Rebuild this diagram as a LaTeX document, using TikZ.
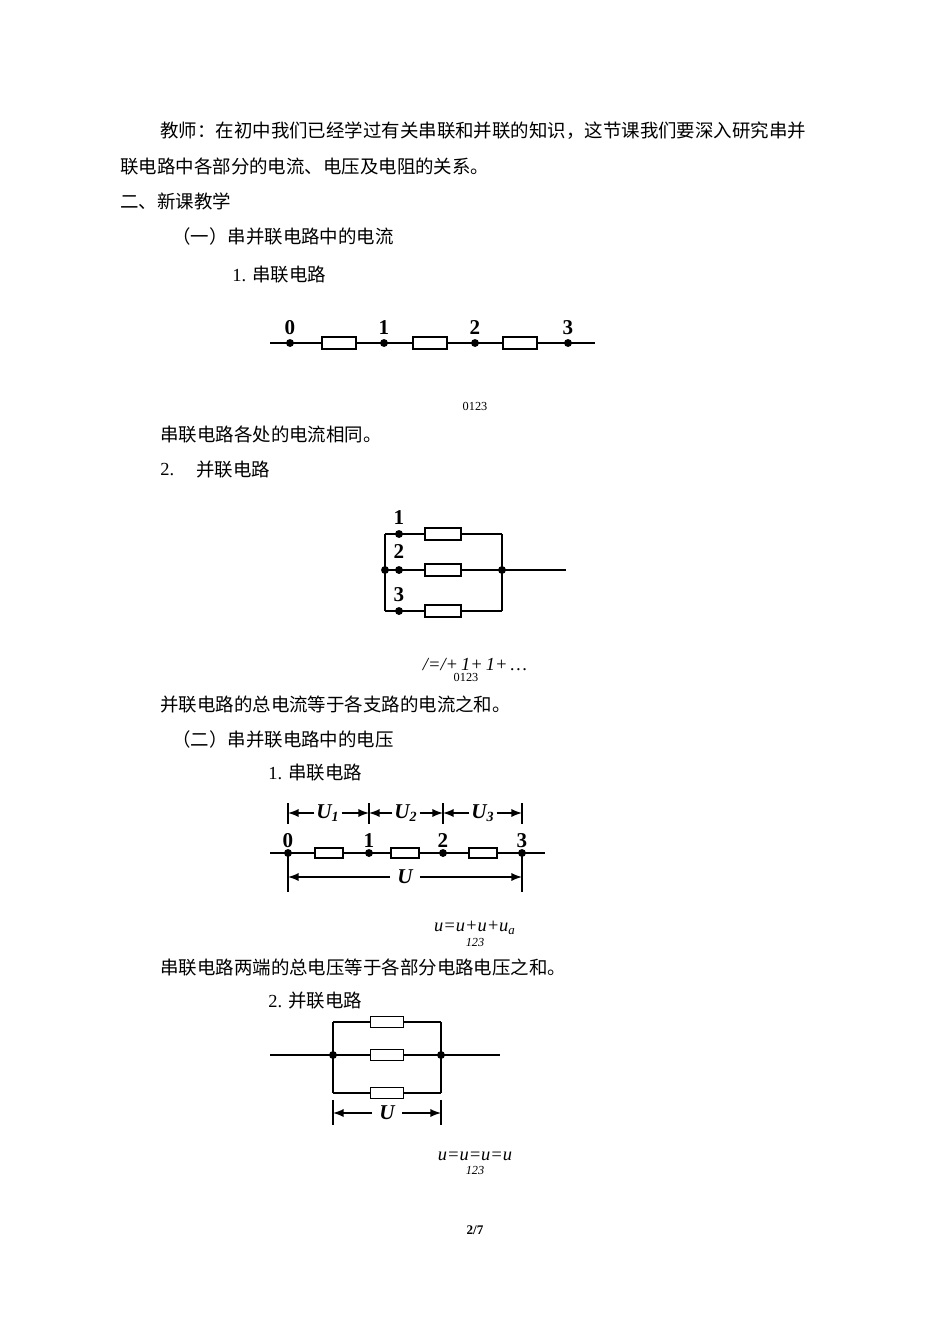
\documentclass[tikz,border=0pt]{standalone}
\usepackage{fontspec}
\setmainfont{Liberation Serif}
\newfontfamily\cjk{Noto Sans CJK SC}
\begin{document}
\begin{tikzpicture}[x=0.02cm,y=-0.02cm,
  txt/.style={anchor=west,inner sep=0,font=\fontsize{10.5pt}{12pt}\selectfont},
  wire/.style={line width=1.2pt},
  res/.style={draw,line width=1.1pt,fill=white,minimum width=#1*0.02cm,minimum height=0.24cm,inner sep=0},
  jn/.style={circle,fill,inner sep=0,minimum size=4.5pt},
  lbl/.style={font=\bfseries\fontsize{12pt}{12pt}\selectfont,inner sep=0},
  ulbl/.style={font=\bfseries\itshape\fontsize{12pt}{12pt}\selectfont,fill=white,inner sep=1pt},
  small/.style={font=\fontsize{7pt}{8pt}\selectfont,inner sep=0},
  frm/.style={font=\itshape\fontsize{10.5pt}{12pt}\selectfont,inner sep=0},
  dim/.style={line width=1.1pt,-latex}]
\useasboundingbox (0,0) rectangle (950,1318);
% text
\node[txt] (t1) at (160,131) {\cjk 教师：在初中我们已经学过有关串联和并联的知识，这节课我们要深入研究串并};
\node[txt] (t2) at (120,166) {\cjk 联电路中各部分的电流、电压及电阻的关系。};
\node[txt] (t3) at (120,201) {\cjk 二、新课教学};
\node[txt] (t4) at (172,236) {\cjk （一）串并联电路中的电流};
\node[txt] (t5) at (232,275) {1. {\cjk 串联电路}};
\node[txt] (t6) at (160,434) {\cjk 串联电路各处的电流相同。};
\node[txt] (t7) at (160,470) {2.};
\node[txt] (t7b) at (196,470) {\cjk 并联电路};
\node[txt] (t8) at (160,704) {\cjk 并联电路的总电流等于各支路的电流之和。};
\node[txt] (t9) at (172,739) {\cjk （二）串并联电路中的电压};
\node[txt] (t10) at (268,773) {1. {\cjk 串联电路}};
\node[txt] (t11) at (160,967) {\cjk 串联电路两端的总电压等于各部分电路电压之和。};
\node[txt] (t12) at (268,1001) {2. {\cjk 并联电路}};
% series 1
\coordinate (sa) at (270,343); \coordinate (sb) at (595,343);
\draw[wire] (sa) -- (sb);
\foreach \x/\n in {290/0,384/1,475/2,568/3}{
  \node[jn] (s\n) at (\x,343) {};
  \node[lbl] (sl\n) at (\x,328) {\n};}
\foreach \x/\n in {339/a,430/b,520/c}{\node[res=34] (sr\n) at (\x,343) {};}
\node[small] (c1) at (475,406) {0123};
% parallel 1
\coordinate (p1) at (385,534); \coordinate (p2) at (385,611);
\coordinate (p3) at (502,534); \coordinate (p4) at (502,611);
\coordinate (pe) at (566,570);
\draw[wire] (p1) -- (p2) (p3) -- (p4) (p1) -- (p3) (p2) -- (p4) (385,570) -- (pe);
\node[jn] (pj1) at (385,570) {}; \node[jn] (pj2) at (502,570) {};
\foreach \y/\n in {534/1,570/2,611/3}{
  \node[jn] (pd\n) at (399,\y) {};
  \node[res=36] (pr\n) at (443,\y) {};}
\node[lbl] (pl1) at (399,518) {1};
\node[lbl] (pl2) at (399,552) {2};
\node[lbl] (pl3) at (399,595) {3};
\node[frm] (f1) at (475,665) {/=/+\,$\mathit{1}$+\,$\mathit{1}$+\,…};
\node[small] (f1s) at (466,677) {0123};
% series 2
\coordinate (qa) at (270,853); \coordinate (qb) at (545,853);
\draw[wire] (qa) -- (qb);
\foreach \x/\n in {288/0,369/1,443/2,522/3}{
  \node[jn] (q\n) at (\x,853) {};
  \node[lbl] (ql\n) at (\x,841) {\n};
  \draw[line width=1.1pt] (\x,803) -- (\x,824);}
\foreach \x/\n in {329/a,405/b,483/c}{\node[res=28,minimum height=0.2cm] (qr\n) at (\x,853) {};}
\coordinate (k0) at (288,813); \coordinate (k1) at (369,813);
\coordinate (k2) at (443,813); \coordinate (k3) at (522,813);
\node[ulbl] (u1) at (328,813) {U\textsubscript{1}};
\node[ulbl] (u2) at (406,813) {U\textsubscript{2}};
\node[ulbl] (u3) at (483,813) {U\textsubscript{3}};
\draw[dim] (u1) -- (k0); \draw[dim] (u1) -- (k1);
\draw[dim] (u2) -- (k1); \draw[dim] (u2) -- (k2);
\draw[dim] (u3) -- (k2); \draw[dim] (u3) -- (k3);
\draw[line width=1.1pt] (288,853) -- (288,892) (522,853) -- (522,892);
\coordinate (m0) at (288,877); \coordinate (m1) at (522,877);
\node[ulbl,inner sep=4pt] (uu) at (405,877) {U};
\draw[dim] (uu) -- (m0); \draw[dim] (uu) -- (m1);
\node[frm] (f2) at (475,928) {u=u+u+u\textsubscript{a}};
\node[small,font=\itshape\fontsize{7pt}{8pt}\selectfont] (f2s) at (475,942) {123};
% parallel 2
\coordinate (r1) at (333,1022); \coordinate (r2) at (333,1093);
\coordinate (r3) at (441,1022); \coordinate (r4) at (441,1093);
\coordinate (ra) at (270,1055); \coordinate (rb) at (500,1055);
\draw[wire] (r1) -- (r2) (r3) -- (r4) (r1) -- (r3) (r2) -- (r4) (ra) -- (rb);
\node[jn] (rj1) at (333,1055) {}; \node[jn] (rj2) at (441,1055) {};
\foreach \y/\n in {1022/1,1055/2,1093/3}{\node[res=33,minimum height=0.22cm] (rr\n) at (387,\y) {};}
\draw[line width=1.1pt] (333,1100) -- (333,1125) (441,1100) -- (441,1125);
\coordinate (n0) at (333,1113); \coordinate (n1) at (441,1113);
\node[ulbl,inner sep=4pt] (uv) at (387,1113) {U};
\draw[dim] (uv) -- (n0); \draw[dim] (uv) -- (n1);
\node[frm] (f3) at (475,1156) {u=u=u=u};
\node[small,font=\itshape\fontsize{7pt}{8pt}\selectfont] (f3s) at (475,1170) {123};
\node[small,font=\bfseries\fontsize{7.5pt}{8pt}\selectfont] (pg) at (475,1230) {2/7};
\end{tikzpicture}
\end{document}
